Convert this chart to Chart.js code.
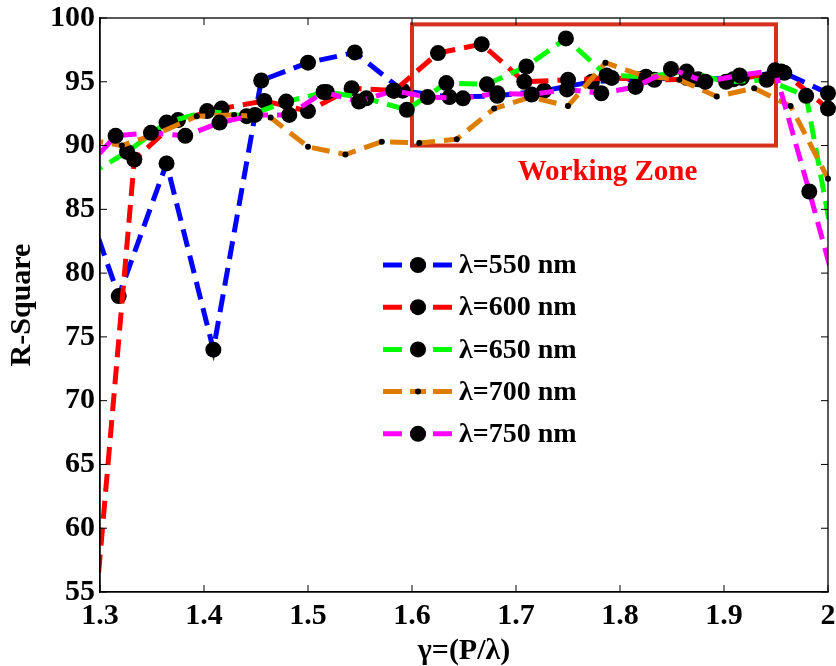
<!DOCTYPE html>
<html>
<head>
<meta charset="utf-8">
<script src="https://cdn.jsdelivr.net/npm/chart.js@4.4.0/dist/chart.umd.min.js"></script>
<style>
  body { margin: 0; background: #fff; }
  canvas { display: block; }
</style>
</head>
<body>
<canvas id="rsq" width="836" height="666"></canvas>
<script>
// gamma = P/lambda for every simulated period, and the fitted R-square there
var gamma550 = [1.273, 1.318, 1.364, 1.409, 1.455, 1.500, 1.545, 1.591, 1.636, 1.682, 1.727, 1.773, 1.818, 1.864, 1.909, 1.955, 2.000];
var rsq550   = [88.7, 78.2, 88.6, 74.0, 95.1, 96.5, 97.3, 94.3, 93.8, 93.9, 94.3, 95.0, 95.2, 95.3, 95.2, 95.8, 94.1];

var gamma600 = [1.292, 1.333, 1.375, 1.417, 1.458, 1.500, 1.542, 1.583, 1.625, 1.667, 1.708, 1.750, 1.792, 1.833, 1.875, 1.917, 1.958, 2.000];
var rsq600   = [50.2, 88.9, 92.0, 92.9, 93.5, 92.7, 94.5, 94.3, 97.25, 97.95, 95.0, 95.15, 95.3, 95.15, 95.2, 95.3, 95.7, 92.9];

var gamma650 = [1.287, 1.326, 1.364, 1.403, 1.441, 1.479, 1.518, 1.556, 1.595, 1.633, 1.672, 1.710, 1.748, 1.787, 1.825, 1.864, 1.902, 1.941, 1.979, 2.017];
var rsq650   = [87.6, 89.5, 91.8, 92.7, 92.3, 93.45, 94.2, 93.7, 92.8, 94.9, 94.8, 96.2, 98.4, 95.5, 95.4, 95.8, 95.0, 95.15, 93.9, 77.0];

var gamma700 = [1.286, 1.321, 1.357, 1.393, 1.429, 1.464, 1.500, 1.536, 1.571, 1.607, 1.643, 1.679, 1.714, 1.750, 1.786, 1.821, 1.857, 1.893, 1.929, 1.964, 2.000];
var rsq700   = [90.5, 90.0, 91.0, 92.3, 92.4, 92.2, 89.9, 89.3, 90.3, 90.2, 90.5, 92.9, 93.8, 93.1, 96.5, 95.5, 95.15, 93.85, 94.5, 93.1, 87.4];

var gamma750 = [1.282, 1.315, 1.349, 1.382, 1.415, 1.449, 1.482, 1.515, 1.549, 1.582, 1.615, 1.649, 1.682, 1.715, 1.749, 1.782, 1.815, 1.849, 1.882, 1.915, 1.949, 1.982, 2.015];
var rsq750   = [87.8, 90.76, 91.0, 90.76, 91.8, 92.4, 92.4, 94.2, 93.45, 94.3, 93.8, 93.7, 94.1, 94.0, 94.4, 94.1, 94.6, 96.0, 95.0, 95.5, 95.9, 86.4, 76.6];

var seriesNames = ['λ=550 nm', 'λ=600 nm', 'λ=650 nm', 'λ=700 nm', 'λ=750 nm'];
var seriesColors = ['#0000ff', '#ff0000', '#00ff00', '#de7d00', '#ff00ff'];

// working zone outline (gamma range, R-square range) and its caption anchor
var zoneGamma = [1.6, 1.95];
var zoneRsq = [90, 99.5];
var zoneLabel = { text: 'Working Zone', gamma: 1.788, rsq: 87.9 };

var SERIF = '"Liberation Serif", "Times New Roman", serif';

function pairs(xs, ys) {
  return xs.map(function (x, i) { return { x: x, y: ys[i] }; });
}

// lines run past the axes at both ends, so clip them at the frame;
// series ending exactly on gamma = 2 keep their whole marker
function makeSet(i, xs, ys, radius, clipRight) {
  return {
    label: seriesNames[i],
    data: pairs(xs, ys),
    borderColor: seriesColors[i],
    borderWidth: 5,
    borderDash: [18, 9],
    pointRadius: radius,
    pointBackgroundColor: '#000',
    pointBorderColor: '#000',
    pointBorderWidth: 0,
    tension: 0,
    fill: false,
    order: 4 - i,
    clip: { left: 0, top: 12, right: clipRight, bottom: 0 }
  };
}

var frameAndZone = {
  id: 'frameAndZone',
  beforeDatasetsDraw: function (chart) {
    var ctx = chart.ctx, sx = chart.scales.x, sy = chart.scales.y;
    var x0 = sx.getPixelForValue(zoneGamma[0]), x1 = sx.getPixelForValue(zoneGamma[1]);
    var y0 = sy.getPixelForValue(zoneRsq[1]), y1 = sy.getPixelForValue(zoneRsq[0]);
    ctx.save();
    ctx.strokeStyle = '#d5311a';
    ctx.lineWidth = 4;
    ctx.strokeRect(x0, y0, x1 - x0, y1 - y0);
    ctx.fillStyle = '#ff0000';
    ctx.font = 'bold 29px ' + SERIF;
    ctx.textAlign = 'center';
    ctx.textBaseline = 'middle';
    ctx.fillText(zoneLabel.text, sx.getPixelForValue(zoneLabel.gamma), sy.getPixelForValue(zoneLabel.rsq));
    ctx.restore();
  },
  afterDraw: function (chart) {
    var ctx = chart.ctx, a = chart.chartArea, sx = chart.scales.x, sy = chart.scales.y;
    ctx.save();
    // box round the axes
    ctx.strokeStyle = '#000';
    ctx.lineWidth = 1.3;
    ctx.strokeRect(a.left, a.top, a.right - a.left, a.bottom - a.top);
    // inward tick marks on all four sides
    var tl = 7;
    ctx.lineWidth = 1;
    ctx.beginPath();
    sx.ticks.forEach(function (t) {
      var px = sx.getPixelForValue(t.value);
      ctx.moveTo(px, a.bottom); ctx.lineTo(px, a.bottom - tl);
      ctx.moveTo(px, a.top); ctx.lineTo(px, a.top + tl);
    });
    sy.ticks.forEach(function (t) {
      var py = sy.getPixelForValue(t.value);
      ctx.moveTo(a.left, py); ctx.lineTo(a.left + tl, py);
      ctx.moveTo(a.right, py); ctx.lineTo(a.right - tl, py);
    });
    ctx.stroke();

    // legend inside the plot
    var lx = 383, ly = 265, gap = 42.2;
    chart.data.datasets.forEach(function (ds, i) {
      var yy = ly + i * gap;
      ctx.strokeStyle = ds.borderColor;
      ctx.lineWidth = 5;
      ctx.setLineDash([]);
      ctx.beginPath();
      ctx.moveTo(lx, yy); ctx.lineTo(lx + 19, yy);
      ctx.moveTo(lx + 50, yy); ctx.lineTo(lx + 69, yy);
      ctx.moveTo(lx + 27, yy); ctx.lineTo(lx + 43, yy);
      ctx.stroke();
      ctx.fillStyle = '#000';
      ctx.beginPath();
      ctx.arc(lx + 35, yy, ds.pointRadius, 0, Math.PI * 2);
      ctx.fill();
      ctx.font = 'bold 28px ' + SERIF;
      ctx.textAlign = 'left';
      ctx.textBaseline = 'middle';
      ctx.fillText(ds.label, lx + 76, yy + 1);
    });
    ctx.restore();
  }
};

new Chart(document.getElementById('rsq'), {
  type: 'line',
  data: {
    datasets: [
      makeSet(0, gamma550, rsq550, 8, 12),
      makeSet(1, gamma600, rsq600, 8, 12),
      makeSet(2, gamma650, rsq650, 8, 0),
      makeSet(3, gamma700, rsq700, 3, 12),
      makeSet(4, gamma750, rsq750, 8, 0)
    ]
  },
  options: {
    responsive: false,
    animation: false,
    layout: { padding: { top: 18, right: 7, left: 0, bottom: 0 } },
    plugins: {
      legend: { display: false },
      tooltip: { enabled: false }
    },
    scales: {
      x: {
        type: 'linear',
        min: 1.3,
        max: 2,
        grid: { display: false, drawTicks: false },
        border: { display: true, color: '#000', width: 1.3 },
        ticks: {
          stepSize: 0.1,
          autoSkip: false,
          maxRotation: 0,
          padding: 6,
          color: '#000',
          font: { family: SERIF, size: 30, weight: 'bold' },
          callback: function (v) { return String(Number(v.toFixed(1))); }
        },
        title: {
          display: true,
          text: 'γ=(P/λ)',
          color: '#000',
          font: { family: SERIF, size: 30, weight: 'bold', lineHeight: 1 },
          padding: { top: 0, bottom: 0 }
        },
        afterFit: function (s) { s.height = 74; s.paddingLeft = 0; s.paddingRight = 0; }
      },
      y: {
        min: 55,
        max: 100,
        grid: { display: false, drawTicks: false },
        border: { display: true, color: '#000', width: 1.3 },
        ticks: {
          stepSize: 5,
          padding: 5,
          color: '#000',
          font: { family: SERIF, size: 30, weight: 'bold' }
        },
        title: {
          display: true,
          text: 'R-Square',
          color: '#000',
          font: { family: SERIF, size: 30, weight: 'bold', lineHeight: 1.2 },
          padding: { top: 4, bottom: 0 }
        },
        afterFit: function (s) { s.width = 100; s.paddingTop = 0; s.paddingBottom = 0; }
      }
    }
  },
  plugins: [frameAndZone]
});
</script>
</body>
</html>
